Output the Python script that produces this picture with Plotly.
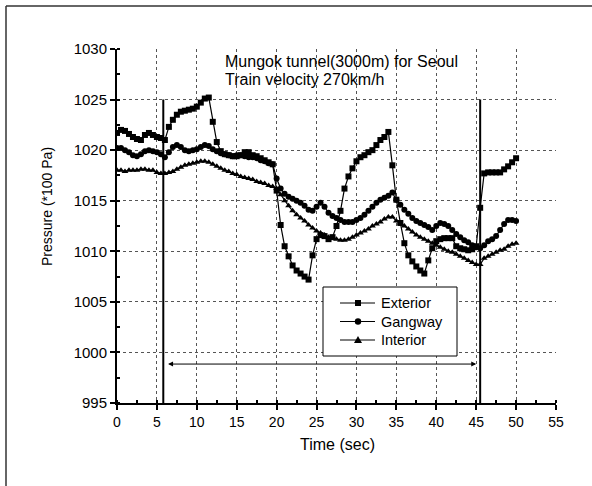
import numpy as np
import plotly.graph_objects as go

time_s = [i * 0.5 for i in range(101)]

exterior = [
    1021.7, 1022.0, 1021.9, 1021.6, 1021.3, 1021.1, 1021.0, 1021.5, 1021.7, 1021.5,
    1021.3, 1021.2, 1021.0, 1022.3, 1023.0, 1023.5, 1023.8, 1023.9, 1024.0, 1024.1,
    1024.3, 1024.7, 1025.1, 1025.2, 1022.8, 1020.8, 1019.9, 1019.6, 1019.5, 1019.4,
    1019.4, 1019.5, 1019.8, 1019.8, 1019.5, 1019.4, 1019.2, 1019.0, 1018.8, 1018.6,
    1016.0, 1012.6, 1010.5, 1009.5, 1008.6, 1008.1, 1007.8, 1007.5, 1007.2, 1009.6,
    1011.2, 1011.6, 1011.5, 1011.2, 1011.4, 1012.5, 1014.0, 1016.2, 1017.4, 1018.2,
    1018.9, 1019.3, 1019.5, 1019.8, 1020.0, 1020.5, 1021.0, 1021.3, 1021.8, 1018.5,
    1015.1, 1012.8, 1010.8, 1009.6, 1009.0, 1008.5, 1008.1, 1007.8, 1009.1, 1010.3,
    1011.0, 1011.2, 1011.3, 1011.3, 1011.3, 1010.5, 1010.3, 1010.2, 1010.1, 1010.2,
    1010.5, 1014.3, 1017.7, 1017.8, 1017.8, 1017.8, 1017.8, 1018.1, 1018.4, 1018.8,
    1019.2,
]

gangway = [
    1020.2, 1020.2, 1020.0, 1019.8, 1019.5, 1019.4, 1019.6, 1019.9, 1020.0, 1019.9,
    1019.8, 1019.6, 1019.3, 1019.8, 1020.3, 1020.5, 1020.3, 1020.0, 1019.9, 1020.0,
    1020.1, 1020.3, 1020.5, 1020.4, 1020.1, 1019.9, 1019.7, 1019.6, 1019.5, 1019.4,
    1019.5, 1019.5, 1019.4, 1019.3, 1019.3, 1019.2, 1019.0, 1018.9, 1018.7, 1018.6,
    1017.2, 1016.2, 1015.7, 1015.4, 1015.2, 1015.0, 1014.8, 1014.5, 1014.1, 1014.0,
    1014.4, 1014.8, 1014.4, 1013.8, 1013.5, 1013.3, 1013.1, 1012.9, 1012.9, 1012.9,
    1013.1, 1013.3, 1013.6, 1014.0, 1014.4, 1014.8, 1015.1, 1015.3, 1015.5, 1015.8,
    1015.1, 1014.6, 1014.1, 1013.7, 1013.3, 1013.0, 1012.8, 1012.6, 1012.4, 1012.1,
    1012.5, 1012.8, 1012.7, 1012.5, 1012.1, 1011.7, 1011.4, 1011.1, 1010.9, 1010.6,
    1010.4, 1010.3, 1010.6, 1011.0, 1011.2, 1011.5, 1012.1, 1012.7, 1013.1, 1013.1,
    1013.0,
]

interior = [
    1018.0, 1018.0, 1017.9, 1018.0, 1018.0, 1018.0, 1018.1, 1018.1, 1018.0, 1018.0,
    1017.8, 1017.7, 1017.7, 1017.8, 1017.9, 1018.1, 1018.3, 1018.5, 1018.6, 1018.7,
    1018.8, 1018.9, 1018.9, 1018.8, 1018.6, 1018.4, 1018.2, 1018.0, 1017.9, 1017.7,
    1017.6, 1017.4, 1017.3, 1017.2, 1017.1, 1016.9, 1016.8, 1016.7, 1016.5, 1016.4,
    1016.2, 1015.6, 1015.0, 1014.5, 1014.0, 1013.6, 1013.3, 1013.0, 1012.6, 1012.3,
    1012.0, 1011.8, 1011.6, 1011.4, 1011.3, 1011.2, 1011.1, 1011.1, 1011.2, 1011.4,
    1011.6, 1011.8, 1012.0, 1012.2, 1012.5, 1012.7, 1012.9, 1013.2, 1013.4, 1013.4,
    1013.0, 1012.8, 1012.5, 1012.2, 1011.9, 1011.6, 1011.4, 1011.2, 1011.0, 1010.8,
    1010.6, 1010.4, 1010.2, 1010.0, 1009.9, 1009.7, 1009.5, 1009.3, 1009.1, 1008.9,
    1008.7, 1008.7, 1009.3, 1009.5, 1009.7, 1009.9, 1010.1, 1010.2, 1010.5, 1010.7,
    1010.8,
]

series_names = ["Exterior", "Gangway", "Interior"]
x_ticks = list(range(0, 60, 5))
y_ticks = list(range(995, 1035, 5))
tunnel_entry_exit = [5.8, 45.5]
arrow_span = [6.4, 45.2]
arrow_level = 998.85
marker_level_top = 1025

W, H = 592, 486
L, R, T, B = 117, 36, 49, 83
PW, PH = W - L - R, H - T - B


def px(x):
    return (x - L) / PW


def py(y):
    return (H - B - y) / PH


FONT = "Arial, Liberation Sans, sans-serif"

fig = go.Figure()
symbols = ["square", "circle", "triangle-up"]
sizes = [6, 6, 6]
for name, vals, sym, sz in zip(series_names, [exterior, gangway, interior], symbols, sizes):
    fig.add_trace(go.Scatter(
        x=time_s, y=vals, name=name, mode="lines+markers",
        line=dict(color="black", width=1.2),
        marker=dict(symbol=sym, size=sz, color="black"),
        showlegend=False,
    ))

shapes = []
annotations = []

# legend box (drawn by hand so that row spacing matches)
shapes.append(dict(type="rect", xref="paper", yref="paper",
                   x0=px(323), x1=px(457), y0=py(356), y1=py(287),
                   line=dict(color="black", width=1), fillcolor="white", layer="above"))
leg_rows = [303, 321.5, 340]
for name, sym, ry in zip(series_names, symbols, leg_rows):
    shapes.append(dict(type="line", xref="paper", yref="paper",
                       x0=px(340), x1=px(375), y0=py(ry), y1=py(ry),
                       line=dict(color="black", width=1), layer="above"))
    cx = 358
    if sym == "square":
        shapes.append(dict(type="rect", xref="paper", yref="paper",
                           x0=px(cx - 3), x1=px(cx + 3), y0=py(ry + 3), y1=py(ry - 3),
                           line=dict(width=0), fillcolor="black", layer="above"))
    elif sym == "circle":
        shapes.append(dict(type="circle", xref="paper", yref="paper",
                           x0=px(cx - 3.2), x1=px(cx + 3.2), y0=py(ry + 3.2), y1=py(ry - 3.2),
                           line=dict(width=0), fillcolor="black", layer="above"))
    else:
        path = "M {:.5f},{:.5f} L {:.5f},{:.5f} L {:.5f},{:.5f} Z".format(
            px(cx - 4), py(ry + 3), px(cx + 4), py(ry + 3), px(cx), py(ry - 4))
        shapes.append(dict(type="path", xref="paper", yref="paper", path=path,
                           line=dict(width=0), fillcolor="black", layer="above"))
    annotations.append(dict(x=px(379), y=py(ry), xref="paper", yref="paper",
                            xanchor="left", yanchor="middle", text=name, showarrow=False,
                            font=dict(family=FONT, size=14.5, color="black")))

# tunnel entry/exit lines
for tx in tunnel_entry_exit:
    shapes.append(dict(type="line", xref="x", yref="y", x0=tx, x1=tx,
                       y0=995, y1=marker_level_top,
                       line=dict(color="black", width=2), layer="above"))
# outer frame (top and left)
shapes.append(dict(type="line", xref="paper", yref="paper", x0=px(6), x1=px(592),
                   y0=py(6), y1=py(6), line=dict(color="#333", width=1.5)))
shapes.append(dict(type="line", xref="paper", yref="paper", x0=px(6), x1=px(6),
                   y0=py(486), y1=py(6), line=dict(color="#333", width=1.5)))

annotations += [
    dict(x=arrow_span[0], y=arrow_level, ax=arrow_span[1], ay=arrow_level,
         xref="x", yref="y", axref="x", ayref="y", text="", showarrow=True,
         arrowhead=2, arrowside="end+start", arrowsize=1, arrowwidth=1, arrowcolor="black"),
    dict(x=px(223), y=py(61), xref="paper", yref="paper", xanchor="left", yanchor="middle",
         text="Mungok tunnel(3000m) for Seoul", showarrow=False,
         font=dict(family=FONT, size=16, color="black")),
    dict(x=px(223), y=py(79), xref="paper", yref="paper", xanchor="left", yanchor="middle",
         text="Train velocity 270km/h", showarrow=False,
         font=dict(family=FONT, size=16, color="black")),
    dict(x=px(47), y=py(207), xref="paper", yref="paper", xanchor="center", yanchor="middle",
         text="Pressure (*100 Pa)", textangle=-90, showarrow=False,
         font=dict(family=FONT, size=14, color="black")),
    dict(x=px(337), y=py(445), xref="paper", yref="paper", xanchor="center", yanchor="middle",
         text="Time (sec)", showarrow=False,
         font=dict(family=FONT, size=16, color="black")),
]

fig.update_layout(
    width=W, height=H,
    margin=dict(l=L, r=R, t=T, b=B, pad=0),
    paper_bgcolor="white", plot_bgcolor="white",
    font=dict(family=FONT, size=14, color="black"),
    showlegend=False,
    shapes=shapes,
    annotations=annotations,
)

fig.update_xaxes(
    range=[0, 55], tickvals=x_ticks, ticktext=[str(v) for v in x_ticks],
    showline=True, linecolor="black", linewidth=2, mirror=False,
    ticks="outside", ticklen=5, tickwidth=1.5, tickcolor="black",
    tickfont=dict(family=FONT, size=14, color="black"),
    showgrid=True, gridcolor="#555", griddash="dot", gridwidth=1,
    zeroline=False,
    minor=dict(dtick=2.5, ticks="inside", ticklen=3, tickcolor="black", showgrid=False),
)
fig.update_yaxes(
    range=[995, 1030], tickvals=y_ticks, ticktext=[str(v) for v in y_ticks],
    showline=True, linecolor="black", linewidth=2, mirror=False,
    ticks="outside", ticklen=5, tickwidth=1.5, tickcolor="black",
    tickfont=dict(family=FONT, size=15, color="black"),
    showgrid=True, gridcolor="#555", griddash="dot", gridwidth=1,
    zeroline=False,
    minor=dict(dtick=2.5, ticks="inside", ticklen=3, tickcolor="black", showgrid=False),
)

fig.write_html("out.html", config={"displayModeBar": False},
               post_script="document.body.style.margin='0px';")
